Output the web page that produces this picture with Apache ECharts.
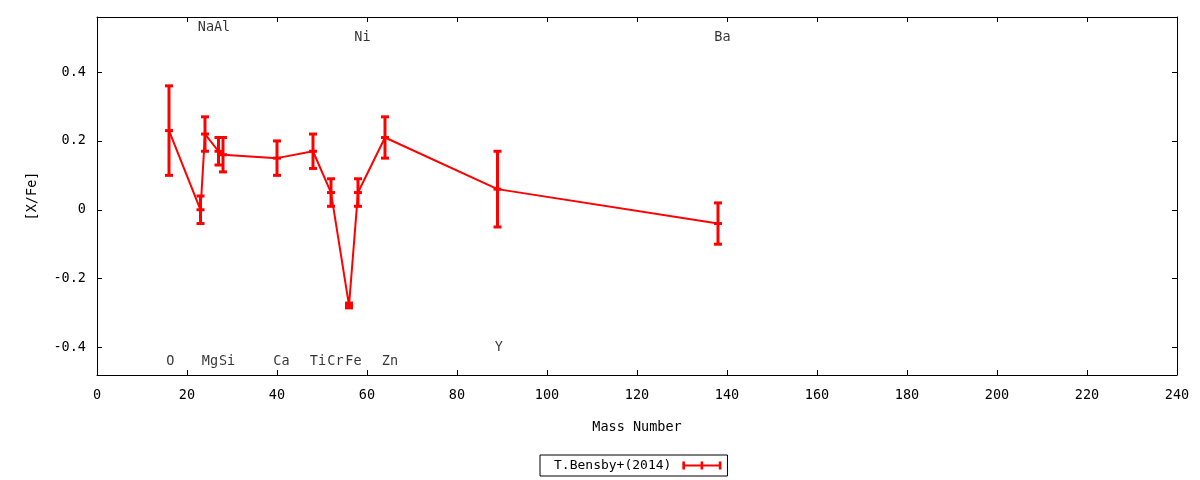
<!DOCTYPE html>
<html>
<head>
<meta charset="utf-8">
<script src="https://cdn.jsdelivr.net/npm/echarts@6/dist/echarts.min.js"></script>
<style>
  html, body { margin: 0; padding: 0; background: #fff; }
  #chart { width: 1200px; height: 480px; }
</style>
</head>
<body>
<div id="chart"></div>
<script>
// data
const massNumber = [16, 23, 24, 27, 28, 40, 48, 52, 56, 58, 64, 89, 138];
const xFe = [0.23, 0.00, 0.22, 0.17, 0.16, 0.15, 0.17, 0.05, -0.278, 0.05, 0.21, 0.06, -0.04];
const xFeErr = [0.13, 0.04, 0.05, 0.04, 0.05, 0.05, 0.05, 0.04, 0.007, 0.04, 0.06, 0.11, 0.06];

// element labels
const elementNames = ['O', 'Na', 'Mg', 'Al', 'Si', 'Ca', 'Ti', 'Cr', 'Fe', 'Ni', 'Zn', 'Y', 'Ba'];
const labelX = [16.3, 24.2, 25.1, 27.8, 28.9, 41, 49.1, 53, 57, 59, 65.1, 89.3, 139];
const labelY = [-0.442, 0.529, -0.442, 0.529, -0.442, -0.442, -0.442, -0.442, -0.442, 0.5, -0.442, -0.401, 0.5];

const yTicks = [-0.4, -0.2, 0, 0.2, 0.4];
const seriesName = 'T.Bensby+(2014)';

const font = 'DejaVu Sans Mono';
const fs = 13.5;
const red = '#ff0000';

var myChart = echarts.init(document.getElementById('chart'));

function errorBar(params, api) {
  var x = api.value(0), y = api.value(1), e = api.value(2);
  var top = api.coord([x, y + e]);
  var bot = api.coord([x, y - e]);
  var mid = api.coord([x, y]);
  var hw = 4;
  var style = { stroke: red, lineWidth: 3 };
  return {
    type: 'group',
    children: [
      { type: 'line', shape: { x1: top[0], y1: top[1], x2: bot[0], y2: bot[1] }, style: style },
      { type: 'line', shape: { x1: top[0] - hw, y1: top[1], x2: top[0] + hw, y2: top[1] }, style: style },
      { type: 'line', shape: { x1: bot[0] - hw, y1: bot[1], x2: bot[0] + hw, y2: bot[1] }, style: style },
      { type: 'line', shape: { x1: mid[0] - hw, y1: mid[1], x2: mid[0] + hw, y2: mid[1] }, style: style }
    ]
  };
}

var axisLine = { show: true, onZero: false, lineStyle: { color: '#000', width: 1 } };
var tick = { show: true, inside: true, length: 5, lineStyle: { color: '#000' } };

var option = {
  backgroundColor: '#fff',
  animation: false,
  textStyle: { fontFamily: font },
  grid: { left: 97, right: 23, top: 17, bottom: 105 },
  legend: {
    left: 540,
    top: 455,
    align: 'right',
    padding: [4, 6, 4, 14],
    borderColor: '#000',
    borderWidth: 1,
    itemWidth: 45,
    itemHeight: 8,
    textStyle: { fontFamily: font, fontSize: 13, color: '#000', padding: [0, 3, 0, 0] },
    data: [{
      name: seriesName,
      icon: 'path://M0,3.5H44V5.5H0Z M0,0H3V9H0Z M20.5,0H23.5V9H20.5Z M41,0H44V9H41Z',
      itemStyle: { color: red }
    }]
  },
  xAxis: [
    {
      type: 'value', min: 0, max: 240, interval: 20, position: 'bottom',
      name: 'Mass Number', nameLocation: 'middle', nameGap: 45,
      nameTextStyle: { fontFamily: font, fontSize: fs, color: '#000' },
      axisLine: axisLine, axisTick: tick,
      axisLabel: { fontFamily: font, fontSize: fs, color: '#000', margin: 13 },
      splitLine: { show: false }
    },
    {
      type: 'value', min: 0, max: 240, interval: 20, position: 'top',
      axisLine: axisLine, axisTick: tick,
      axisLabel: { show: false }, splitLine: { show: false }
    }
  ],
  yAxis: [
    {
      type: 'value', min: -0.48, max: 0.56, position: 'left',
      name: '[X/Fe]', nameLocation: 'middle', nameGap: 58, nameRotate: 90,
      nameTextStyle: { fontFamily: font, fontSize: fs, color: '#000' },
      axisLine: axisLine,
      axisTick: Object.assign({ customValues: yTicks }, tick),
      axisLabel: { customValues: yTicks, fontFamily: font, fontSize: fs, color: '#000', margin: 11,
        formatter: function (v) { return String(v); } },
      splitLine: { show: false }
    },
    {
      type: 'value', min: -0.48, max: 0.56, position: 'right',
      axisLine: axisLine,
      axisTick: Object.assign({ customValues: yTicks }, tick),
      axisLabel: { show: false }, splitLine: { show: false }
    }
  ],
  series: [
    {
      name: seriesName,
      type: 'line',
      data: massNumber.map(function (m, i) { return [m, xFe[i]]; }),
      symbol: 'none',
      lineStyle: { color: red, width: 2 },
      itemStyle: { color: red },
      z: 2
    },
    {
      name: seriesName,
      type: 'custom',
      renderItem: errorBar,
      data: massNumber.map(function (m, i) { return [m, xFe[i], xFeErr[i]]; }),
      itemStyle: { color: red },
      z: 3
    },
    {
      type: 'scatter',
      silent: true,
      symbolSize: 0,
      data: labelX.map(function (x, i) { return [x, labelY[i], elementNames[i]]; }),
      label: {
        show: true, position: 'inside', color: '#000', fontFamily: font, fontSize: fs,
        formatter: function (p) { return p.data[2]; }
      },
      z: 4
    }
  ]
};

option && myChart.setOption(option);
</script>
</body>
</html>
